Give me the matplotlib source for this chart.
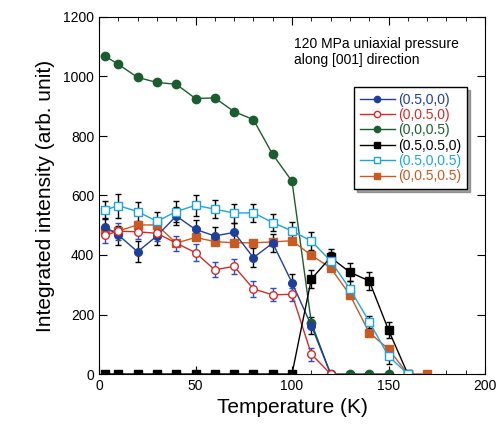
import numpy as np
import matplotlib
matplotlib.use("Agg")
import matplotlib.pyplot as plt
from matplotlib.ticker import MultipleLocator
from matplotlib.lines import Line2D

plt.rcParams['font.family'] = ['Liberation Sans', 'DejaVu Sans']

# temperatures (K)
T = [3, 10, 20, 30, 40, 50, 60, 70, 80, 90, 100, 110, 120, 130, 140, 150, 160, 170]

# (0.5,0,0) filled blue circles
t_a = T[:13]
a = [495, 467, 411, 464, 531, 486, 464, 476, 391, 440, 307, 163, 0]
a_err = [30, 32, 35, 30, 30, 30, 30, 30, 32, 30, 30, 30, 0]

# (0,0.5,0) open red circles
t_b = T[:13]
b = [467, 480, 478, 473, 440, 408, 350, 362, 286, 266, 268, 67, 0]
b_err = [28, 28, 25, 25, 25, 28, 25, 25, 28, 22, 22, 22, 0]

# (0,0,0.5) filled green circles
t_c = T[:16]
c = [1069, 1041, 997, 980, 974, 926, 928, 882, 855, 738, 648, 173, 0, 0, 0, 0]

# (0.5,0.5,0) black squares
t_d = T[:17]
d = [0, 0, 0, 0, 0, 0, 0, 0, 0, 0, 0, 319, 392, 342, 313, 148, 0]
d_err = [0] * 11 + [30, 28, 30, 30, 28, 0]

# (0.5,0,0.5) open cyan squares
t_e = T[:17]
e = [551, 566, 546, 513, 546, 567, 554, 541, 542, 509, 481, 447, 380, 286, 176, 60, 0]
e_err = [30, 40, 32, 30, 35, 35, 30, 32, 30, 30, 30, 30, 30, 25, 20, 25, 0]

# (0,0.5,0.5) filled orange squares
t_f = T
f = [482, 481, 501, 501, 440, 459, 445, 441, 441, 444, 448, 399, 357, 266, 139, 84, 0, 0]

labels = ['(0.5,0,0)', '(0,0.5,0)', '(0,0,0.5)', '(0.5,0.5,0)', '(0.5,0,0.5)', '(0,0.5,0.5)']
colors = ['#1f3f9c', '#d42a2a', '#1b5e2e', 'black', '#1ea5e0', '#c95a22']
markers = ['o', 'o', 'o', 's', 's', 's']
filled = [True, False, True, True, False, True]

fig = plt.figure(figsize=(5, 4.25), dpi=100)
ax = fig.add_axes([0.198, 0.12, 0.772, 0.84])

ms = 5.5
ax.errorbar(t_a, a, yerr=a_err, color=colors[0], ecolor='black', elinewidth=1, capsize=2.5,
            marker='o', ms=ms, lw=1)
ax.errorbar(t_b, b, yerr=b_err, color=colors[1], ecolor='#2a4fc0', elinewidth=1, capsize=2.5,
            marker='o', ms=ms, mfc='white', lw=1)
ax.plot(t_c, c, color=colors[2], marker='o', ms=6, lw=1)
ax.errorbar(t_d, d, yerr=d_err, color=colors[3], ecolor='black', elinewidth=1, capsize=2.5,
            marker='s', ms=ms, lw=1)
ax.errorbar(t_e, e, yerr=e_err, color=colors[4], ecolor='black', elinewidth=1, capsize=2.5,
            marker='s', ms=ms, mfc='white', lw=1)
ax.plot(t_f, f, color=colors[5], marker='s', ms=6, lw=1)

ax.set_xlim(0, 200)
ax.set_ylim(0, 1200)
ax.xaxis.set_major_locator(MultipleLocator(50))
ax.xaxis.set_minor_locator(MultipleLocator(10))
ax.yaxis.set_major_locator(MultipleLocator(200))
ax.tick_params(which='both', direction='in', top=True, right=True, labelsize=10)
ax.tick_params(which='major', length=6)
ax.tick_params(which='minor', length=3)

ax.set_xlabel('Temperature (K)', fontsize=15, labelpad=4)
ax.set_ylabel('Integrated intensity (arb. unit)', fontsize=15, labelpad=6)

ax.text(0.505, 0.945, '120 MPa uniaxial pressure\nalong [001] direction',
        transform=ax.transAxes, fontsize=10, va='top', ha='left', linespacing=1.2)

handles = [Line2D([], [], color=col, marker=m, ms=4.5, lw=1,
                  mfc=col if fl else 'white')
           for col, m, fl in zip(colors, markers, filled)]
leg = ax.legend(handles, labels, loc='upper right', bbox_to_anchor=(0.953, 0.804), fontsize=10,
                frameon=True, fancybox=False, shadow=True, edgecolor='black',
                framealpha=1, labelcolor=colors, handlelength=2.5,
                borderpad=0.4, labelspacing=0.1, handletextpad=0.25, borderaxespad=0)
leg.get_frame().set_linewidth(1)

fig.savefig('out.png', dpi=100)
